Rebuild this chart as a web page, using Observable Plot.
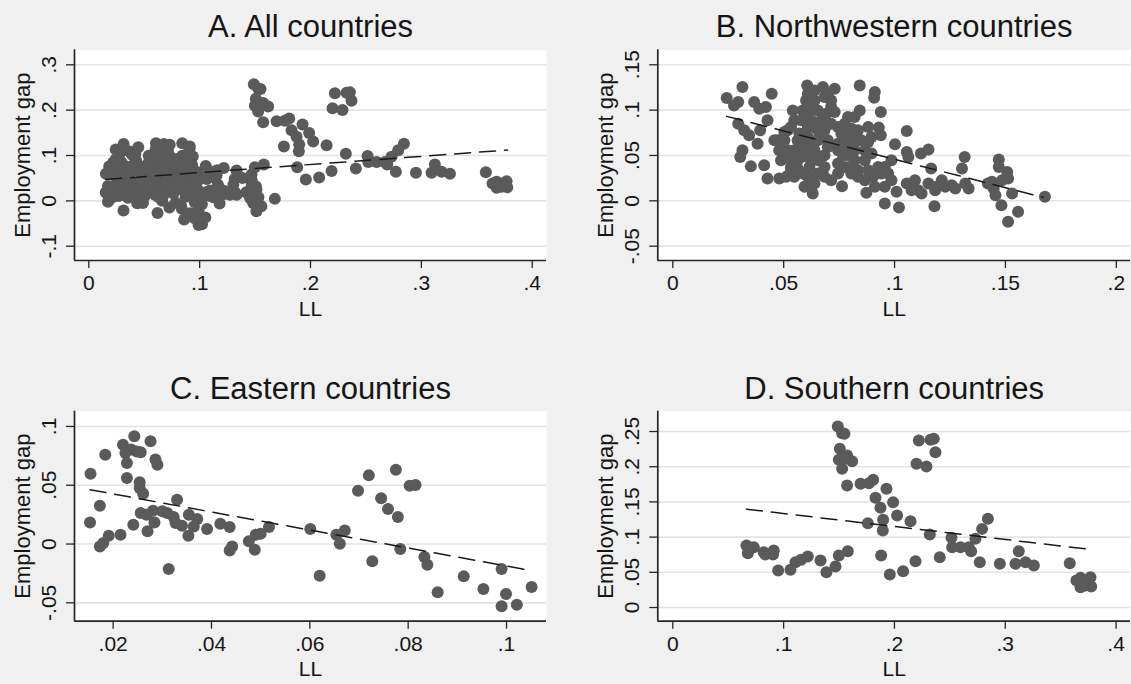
<!DOCTYPE html>
<html><head><meta charset="utf-8">
<script src="https://cdn.jsdelivr.net/npm/d3@7"></script>
<script src="https://cdn.jsdelivr.net/npm/@observablehq/plot@0.6"></script>
<style>
html,body{margin:0;padding:0;background:#f0f0f0;}
#wrap{position:relative;width:1131px;height:684px;overflow:hidden;background:#f0f0f0;}
.panel{position:absolute;}
.panel svg{overflow:visible;}
</style></head><body><div id="wrap"></div>
<script>
// ---- Panel B: Northwestern countries ----
const llB = [0.0243,0.0314,0.0295,0.0276,0.0367,0.0390,0.0420,0.0446,0.0427,0.0295,0.0322,0.0344,0.0382,0.0394,0.0314,0.0304,0.0352,0.0412,0.0427,0.0480,0.0473,0.0503,0.0518,0.0541,0.0606,0.0601,0.0586,0.0639,0.0677,0.0730,0.0684,0.0714,0.0654,0.0624,0.0669,0.0714,0.0790,0.0805,0.0760,0.0843,0.0843,0.0911,0.0908,0.0938,0.0929,0.0938,0.0881,0.0835,0.1055,0.1002,0.1055,0.1062,0.1119,0.1153,0.1165,0.0986,0.0956,0.0903,0.0986,0.1009,0.0956,0.1020,0.0873,0.0763,0.0631,0.0639,0.0684,0.0745,0.0805,0.0835,0.0866,0.0745,0.0684,0.0616,0.0563,0.0533,0.0511,0.0548,0.0594,0.0639,0.0684,0.0790,0.0820,0.0866,0.0896,0.0571,0.0609,0.0662,0.0699,0.0745,0.0805,0.0609,0.0646,0.0609,0.0654,0.0511,0.0533,0.0563,0.0586,0.1055,0.1092,0.1107,0.1122,0.1077,0.1153,0.1190,0.1183,0.1228,0.1258,0.1274,0.1180,0.1316,0.1304,0.1334,0.1319,0.1470,0.1470,0.1508,0.1512,0.1421,0.1447,0.1455,0.1482,0.1557,0.1512,0.1530,0.1678,0.1439,0.1485,0.1213,0.0579,0.0579,0.0684,0.0745,0.0775,0.0835,0.0866,0.0518,0.0488,0.0775,0.0941,0.0956,0.0911,0.0624,0.0692,0.0639,0.0714,0.0820,
  0.0548,0.0563,0.0533,0.0579,0.0624,0.0609,0.0654,0.0699,0.0745,0.0775,0.0820,0.0850,0.0896,0.0881,0.0805,0.0767,0.0798,0.0835,0.0881,0.0926,0.0971,0.0654,0.0609,0.0548,0.0714,0.0594,0.0533,0.0503,0.0480,0.0458,0.0609,0.0699,0.0730,0.0775];
const gapB = [0.1133,0.1254,0.1089,0.1052,0.1089,0.1016,0.1034,0.1180,0.0887,0.0850,0.0777,0.0722,0.0630,0.0777,0.0557,0.0484,0.0381,0.0392,0.0246,0.0246,0.0667,0.0759,0.0777,0.0997,0.1272,0.1107,0.0997,0.1217,0.1254,0.1236,0.1144,0.1034,0.0997,0.0887,0.0887,0.0850,0.0924,0.0796,0.0741,0.1272,0.0997,0.1199,0.1137,0.0979,0.0807,0.0722,0.0649,0.0667,0.0770,0.0623,0.0539,0.0484,0.0521,0.0565,0.0356,0.0447,0.0374,0.0264,0.0227,0.0099,-0.0029,-0.0073,0.0088,0.0161,0.0081,0.0191,0.0264,0.0301,0.0301,0.0337,0.0227,0.0411,0.0374,0.0374,0.0356,0.0374,0.0484,0.0557,0.0594,0.0557,0.0502,0.0502,0.0447,0.0447,0.0521,0.0741,0.0704,0.0722,0.0667,0.0630,0.0594,0.0814,0.0796,0.0484,0.0447,0.0264,0.0337,0.0447,0.0301,0.0191,0.0227,0.0117,0.0081,0.0117,0.0191,0.0154,0.0117,0.0154,0.0172,0.0136,-0.0059,0.0484,0.0356,0.0136,0.0191,0.0455,0.0374,0.0319,0.0246,0.0191,0.0136,0.0062,-0.0048,-0.0121,-0.0231,0.0081,0.0044,0.0209,0.0227,0.0227,0.0887,0.0630,0.0777,0.0814,0.0704,0.0777,0.0557,0.0557,0.0447,0.0374,0.0301,0.0154,0.0154,0.1034,0.0961,0.1107,0.1107,0.0924,
  0.0887,0.0667,0.0484,0.0484,0.0630,0.0961,0.0667,0.0594,0.0557,0.0594,0.0557,0.0667,0.0704,0.0814,0.0704,0.0502,0.0374,0.0264,0.0337,0.0374,0.0301,0.0301,0.0264,0.0264,0.0227,0.0154,0.0814,0.0667,0.0557,0.0667,0.1180,0.1180,0.0979,0.0850];

// ---- Panel C: Eastern countries ----
const llC = [0.0154,0.0153,0.0173,0.0173,0.0180,0.0191,0.0184,0.0215,0.0220,0.0225,0.0228,0.0228,0.0243,0.0237,0.0256,0.0276,0.0286,0.0290,0.0254,0.0254,0.0261,0.0256,0.0268,0.0241,0.0270,0.0281,0.0284,0.0300,0.0313,0.0310,0.0323,0.0330,0.0327,0.0340,0.0354,0.0353,0.0364,0.0371,0.0391,0.0418,0.0437,0.0437,0.0442,0.0476,0.0488,0.0490,0.0500,0.0517,0.0601,0.0620,0.0654,0.0661,0.0671,0.0698,0.0720,0.0727,0.0745,0.0759,0.0775,0.0779,0.0784,0.0803,0.0815,0.0833,0.0839,0.0860,0.0913,0.0953,0.0990,0.0990,0.0999,0.1021,0.1051,0.0248];
const gapC = [0.0598,0.0184,0.0326,-0.0020,0.0009,0.0071,0.0760,0.0079,0.0845,0.0774,0.0689,0.0562,0.0916,0.0803,0.0780,0.0874,0.0718,0.0675,0.0525,0.0476,0.0428,0.0264,0.0250,0.0164,0.0108,0.0284,0.0184,0.0278,-0.0213,0.0264,0.0230,0.0377,0.0179,0.0156,0.0250,0.0071,0.0150,0.0213,0.0128,0.0173,0.0145,-0.0054,-0.0020,0.0023,-0.0048,0.0079,0.0088,0.0145,0.0128,-0.0269,0.0079,0.0003,0.0116,0.0454,0.0584,-0.0147,0.0389,0.0298,0.0632,0.0230,-0.0043,0.0496,0.0502,-0.0111,-0.0176,-0.0411,-0.0275,-0.0383,-0.0213,-0.0530,-0.0425,-0.0516,-0.0366,0.0788];

// ---- Panel D: Southern countries ----
const llD = [0.0665,0.0677,0.0731,0.0821,0.0836,0.0911,0.0905,0.0951,0.1062,0.1107,0.1158,0.1218,0.1333,0.1386,0.1468,0.1498,0.1579,0.1489,0.1528,0.1549,0.1507,0.1498,0.1528,0.1573,0.1618,0.1549,0.1573,0.1694,0.1769,0.1808,0.1760,0.1829,0.1874,0.1928,0.1988,0.2024,0.1898,0.1895,0.1880,0.1958,0.2078,0.2145,0.2190,0.2220,0.2199,0.2289,0.2325,0.2355,0.2370,0.2319,0.2409,0.2515,0.2521,0.2596,0.2671,0.2692,0.2731,0.2791,0.2843,0.2770,0.2951,0.3092,0.3122,0.3183,0.3258,0.3582,0.3642,0.3679,0.3709,0.3769,0.3775,0.3679,0.3724];
const gapD = [0.0881,0.0772,0.0857,0.0786,0.0753,0.0810,0.0753,0.0526,0.0535,0.0644,0.0677,0.0724,0.0668,0.0502,0.0582,0.0739,0.0800,0.2571,0.2476,0.2467,0.2254,0.2098,0.1970,0.2159,0.2079,0.2112,0.1733,0.1757,0.1766,0.1814,0.1198,0.1558,0.1416,0.1686,0.1496,0.1307,0.1245,0.1094,0.0739,0.0469,0.0516,0.1226,0.0658,0.2372,0.2041,0.2003,0.2382,0.2396,0.2207,0.1037,0.0715,0.0990,0.0857,0.0857,0.0857,0.0800,0.0975,0.1117,0.1260,0.0644,0.0620,0.0620,0.0800,0.0644,0.0597,0.0630,0.0384,0.0289,0.0384,0.0431,0.0298,0.0421,0.0313];

// ---- Linear fit end points ----
const fitA_ll = [0.0151, 0.3777], fitA_gap = [0.0472, 0.1120];
const fitB_ll = [0.0243, 0.1670], fitB_gap = [0.0931, 0.0039];
const fitC_ll = [0.0153, 0.1049], fitC_gap = [0.0462, -0.0225];
const fitD_ll = [0.0665, 0.3775], fitD_gap = [0.1397, 0.0824];

// ---- Ticks ----
const xTicksA = [0, 0.1, 0.2, 0.3, 0.4], xLabelsA = ["0", ".1", ".2", ".3", ".4"];
const yTicksA = [-0.1, 0, 0.1, 0.2, 0.3], yLabelsA = ["-.1", "0", ".1", ".2", ".3"];
const xTicksB = [0, 0.05, 0.1, 0.15, 0.2], xLabelsB = ["0", ".05", ".1", ".15", ".2"];
const yTicksB = [-0.05, 0, 0.05, 0.1, 0.15], yLabelsB = ["-.05", "0", ".05", ".1", ".15"];
const xTicksC = [0.02, 0.04, 0.06, 0.08, 0.1], xLabelsC = [".02", ".04", ".06", ".08", ".1"];
const yTicksC = [-0.05, 0, 0.05, 0.1], yLabelsC = ["-.05", "0", ".05", ".1"];
const xTicksD = [0, 0.1, 0.2, 0.3, 0.4], xLabelsD = ["0", ".1", ".2", ".3", ".4"];
const yTicksD = [0, 0.05, 0.1, 0.15, 0.2, 0.25], yLabelsD = ["0", ".05", ".1", ".15", ".2", ".25"];

const titles = ["A. All countries", "B. Northwestern countries", "C. Eastern countries", "D. Southern countries"];
const yTitle = "Employment gap", xTitle = "LL";

// ---- build tables ----
const pts = (ll, gap) => ll.map((v, i) => ({ll: v, gap: gap[i]}));
const ptsB = pts(llB, gapB), ptsC = pts(llC, gapC), ptsD = pts(llD, gapD);
const ptsA = [...ptsB, ...ptsC, ...ptsD];

const FONT = "'Liberation Sans', Arial, Helvetica, sans-serif";
const INK = "#151515";

function panel(cfg) {
  const xFmt = new Map(cfg.xTicks.map((t, i) => [t, cfg.xLabels[i]]));
  const yFmt = new Map(cfg.yTicks.map((t, i) => [t, cfg.yLabels[i]]));
  const fit = pts(cfg.fitLL, cfg.fitGap);
  const svg = Plot.plot({
    width: cfg.w, height: cfg.h,
    marginLeft: cfg.mL, marginRight: cfg.mR, marginTop: cfg.mT, marginBottom: cfg.mB,
    style: {fontFamily: FONT, background: "transparent", color: INK},
    x: {domain: cfg.xDom},
    y: {domain: cfg.yDom},
    marks: [
      Plot.frame({fill: "white", stroke: "none"}),
      Plot.gridY(cfg.yTicks, {stroke: "#e3e3e3", strokeOpacity: 1, strokeWidth: 1.6}),
      Plot.dot(cfg.data, {x: "ll", y: "gap", r: 6, fill: "#5a5a5a", stroke: "none"}),
      Plot.line(fit, {x: "ll", y: "gap", stroke: "#1a1a1a", strokeWidth: 1.5, strokeDasharray: "16,9"}),
      Plot.ruleX([cfg.xDom[0]], {stroke: "#262626", strokeWidth: 1.7}),
      Plot.ruleY([cfg.yDom[0]], {stroke: "#262626", strokeWidth: 1.7}),
      Plot.axisX(cfg.xTicks, {tickFormat: d => xFmt.get(d), tickSize: 8, tickPadding: 7, fontSize: 21, label: null, stroke: "#262626", strokeWidth: 1.3, fill: INK}),
      Plot.axisY(cfg.yTicks, {tickFormat: d => yFmt.get(d), tickSize: 8, tickPadding: 11, tickRotate: -90, fontSize: 21, label: null, stroke: "#262626", strokeWidth: 1.3, fill: INK}),
      Plot.text([cfg.title], {frameAnchor: "top", dy: -12.6, lineAnchor: "bottom", fontSize: 31, fill: INK}),
      Plot.text([yTitle], {frameAnchor: "left", dx: -45, rotate: -90, textAnchor: "middle", lineAnchor: "bottom", fontSize: 22, fill: INK}),
      Plot.text([xTitle], {frameAnchor: "bottom", dy: 55, lineAnchor: "bottom", fontSize: 21, fill: INK})
    ]
  });
  const div = document.createElement("div");
  div.className = "panel";
  div.style.left = cfg.left + "px";
  div.style.top = cfg.top + "px";
  div.style.width = cfg.w + "px";
  div.style.height = cfg.h + "px";
  div.appendChild(svg);
  document.getElementById("wrap").appendChild(div);
}

panel({left: 0, top: 0, w: 565, h: 330, mL: 74, mR: 19, mT: 49.3, mB: 70,
  xDom: [-0.0129, 0.4129], yDom: [-0.1315, 0.3331],
  xTicks: xTicksA, xLabels: xLabelsA, yTicks: yTicksA, yLabels: yLabelsA,
  title: titles[0], data: ptsA, fitLL: fitA_ll, fitGap: fitA_gap});
panel({left: 565, top: 0, w: 566, h: 330, mL: 92.3, mR: 1, mT: 49.3, mB: 70,
  xDom: [-0.00677, 0.2064], yDom: [-0.0658, 0.1665],
  xTicks: xTicksB, xLabels: xLabelsB, yTicks: yTicksB, yLabels: yLabelsB,
  title: titles[1], data: ptsB, fitLL: fitB_ll, fitGap: fitB_gap});
panel({left: 0, top: 342, w: 565, h: 342, mL: 74, mR: 19, mT: 68.67, mB: 63.33,
  xDom: [0.01214, 0.10813], yDom: [-0.0656, 0.1130],
  xTicks: xTicksC, xLabels: xLabelsC, yTicks: yTicksC, yLabels: yLabelsC,
  title: titles[2], data: ptsC, fitLL: fitC_ll, fitGap: fitC_gap});
panel({left: 565, top: 342, w: 566, h: 342, mL: 92.3, mR: 1, mT: 68.67, mB: 63.33,
  xDom: [-0.01353, 0.413], yDom: [-0.0194, 0.2789],
  xTicks: xTicksD, xLabels: xLabelsD, yTicks: yTicksD, yLabels: yLabelsD,
  title: titles[3], data: ptsD, fitLL: fitD_ll, fitGap: fitD_gap});
</script></body></html>
